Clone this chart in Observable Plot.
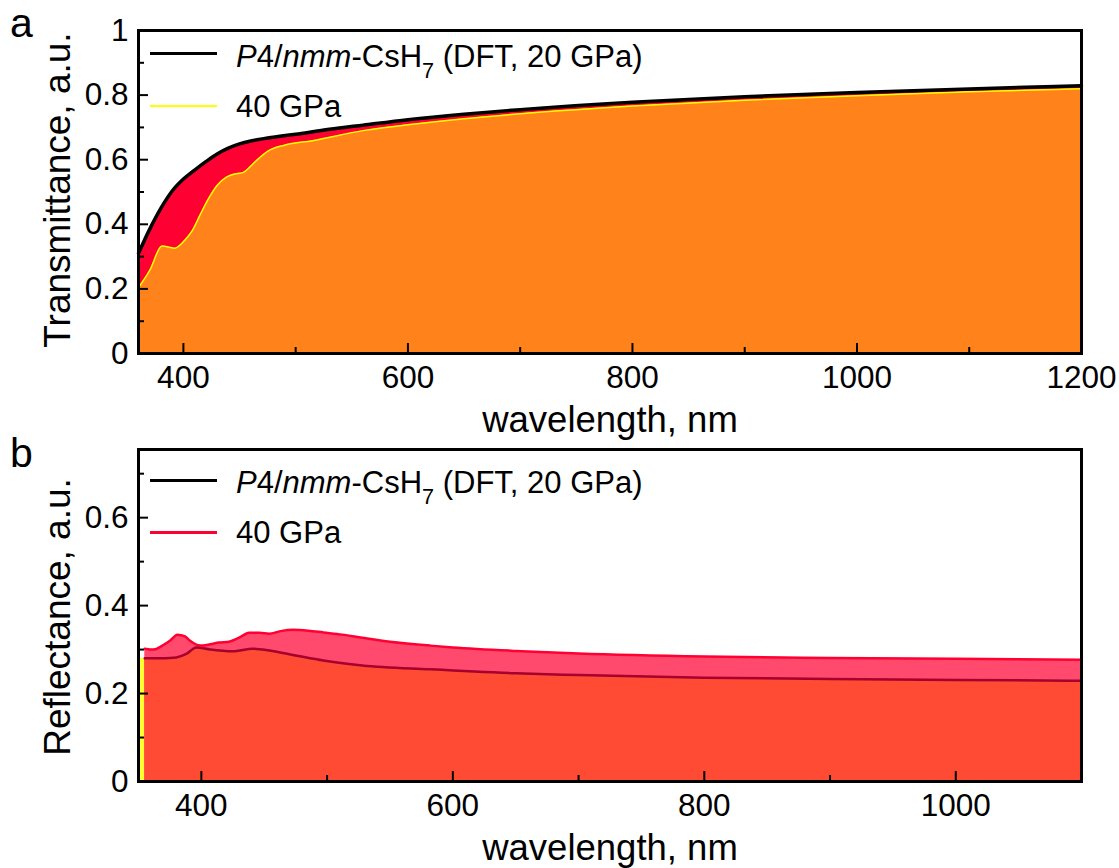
<!DOCTYPE html>
<html><head><meta charset="utf-8">
<script src="https://cdn.jsdelivr.net/npm/d3@7"></script>
<script src="https://cdn.jsdelivr.net/npm/@observablehq/plot@0.6"></script>
<style>
body{margin:0;background:#fff;font-family:"Liberation Sans",Arial,sans-serif;}
#wrap{position:relative;width:1119px;height:868px;overflow:hidden;background:#fff}
.abs{position:absolute;white-space:nowrap;color:#000;line-height:1}
.plot{position:absolute;left:0}
.sw{position:absolute}
</style></head><body><div id="wrap"></div>
<script>
// ---------- Panel a: transmittance ----------
const wlT20 = [360,370,380,390,400,410,420,430,440,450,460,475,500,530,560,600,650,700,800,900,1000,1100,1200];
const valT20 = [0.31,0.385,0.45,0.503,0.54,0.568,0.594,0.618,0.636,0.649,0.658,0.667,0.679,0.694,0.707,0.724,0.741,0.755,0.778,0.795,0.808,0.819,0.829];
const wlT40 = [360,370,381,392,401,408,415,423,430,438,445,453,460,465,476,490,515,560,600,650,700,800,900,1000,1100,1200];
const valT40 = [0.204,0.257,0.333,0.326,0.35,0.381,0.43,0.483,0.52,0.545,0.555,0.56,0.58,0.597,0.628,0.645,0.659,0.69,0.708,0.727,0.742,0.766,0.784,0.798,0.81,0.82];
const xTicksA = [400,600,800,1000,1200];
const xMinorA = [500,700,900,1100];
const yTicksA = [0,0.2,0.4,0.6,0.8,1];
const yMinorA = [0.1,0.3,0.5,0.7,0.9];

// ---------- Panel b: reflectance ----------
const wlR20 = [355,375,380,388,396,407,425,441,454,476,497,528,582,650,700,800,900,1000,1100];
const valR20 = [0.28,0.281,0.282,0.29,0.305,0.30,0.296,0.302,0.298,0.286,0.275,0.264,0.255,0.246,0.242,0.236,0.233,0.231,0.229];
const wlR40 = [355,362,369,375,381,387,391,399,407,414,422,430,438,446,454,463,473,485,497,512,528,550,582,600,650,700,800,900,1000,1100];
const valR40 = [0.302,0.30,0.309,0.32,0.334,0.33,0.32,0.309,0.312,0.316,0.318,0.327,0.338,0.338,0.336,0.342,0.345,0.343,0.339,0.334,0.327,0.318,0.309,0.305,0.297,0.291,0.284,0.281,0.279,0.277];
const wlStripe = [350,356];
const valStripe = [0.28,0.28];
const xTicksB = [400,600,800,1000];
const xMinorB = [500,700,900];
const yTicksB = [0,0.2,0.4,0.6];
const yMinorB = [0.1,0.3,0.5,0.7];

const legendMain = "P4/nmm-CsH7 (DFT, 20 GPa)";
const legend40 = "40 GPa";

const rows = (w, v) => w.map((x, i) => ({x, y: v[i]}));
const fmt = d3.format("~g");
const FONT = "'Liberation Sans', Arial, sans-serif";

function panel({width, height, mt, mr, mb, ml, xDomain, yDomain, xT, xM, yT, yM, marks}) {
  const fh = height - mt - mb, fw = width - ml - mr;
  return Plot.plot({
    width, height, marginTop: mt, marginRight: mr, marginBottom: mb, marginLeft: ml,
    style: {fontSize: "31.5px", fontFamily: FONT, color: "#000", background: "transparent"},
    x: {domain: xDomain},
    y: {domain: yDomain},
    marks: [
      ...marks,
      Plot.tickX(xT, {x: d => d, insetTop: fh - 10, stroke: "#000", strokeWidth: 2}),
      Plot.tickX(xM, {x: d => d, insetTop: fh - 6, stroke: "#000", strokeWidth: 2}),
      Plot.tickY(yT, {y: d => d, insetRight: fw - 10, stroke: "#000", strokeWidth: 2}),
      Plot.tickY(yM, {y: d => d, insetRight: fw - 6, stroke: "#000", strokeWidth: 2}),
      Plot.frame({stroke: "#000", strokeWidth: 3}),
      Plot.axisX({ticks: xT, tickSize: 0, tickPadding: 12, label: null, tickFormat: fmt}),
      Plot.axisY({ticks: yT, tickSize: 0, tickPadding: 10, label: null, tickFormat: fmt})
    ]
  });
}

const T20 = rows(wlT20, valT20), T40 = rows(wlT40, valT40);
const R20 = rows(wlR20, valR20), R40 = rows(wlR40, valR40), ST = rows(wlStripe, valStripe);
const cv = "monotone-x";

const plotA = panel({
  width: 1119, height: 430, mt: 30, mr: 38, mb: 77, ml: 138,
  xDomain: [360, 1200], yDomain: [0, 1],
  xT: xTicksA, xM: xMinorA, yT: yTicksA, yM: yMinorA,
  marks: [
    Plot.areaY(T20, {x: "x", y: "y", fill: "#FF0033", curve: cv}),
    Plot.areaY(T40, {x: "x", y: "y", fill: "#FF831A", curve: cv}),
    Plot.line(T40, {x: "x", y: "y", stroke: "#FFFF00", strokeWidth: 1.5, curve: cv}),
    Plot.line(T20, {x: "x", y: "y", stroke: "#000", strokeWidth: 3.5, curve: cv})
  ]
});
const plotB = panel({
  width: 1119, height: 438, mt: 19, mr: 38, mb: 87, ml: 138,
  xDomain: [350, 1100], yDomain: [0, 0.755],
  xT: xTicksB, xM: xMinorB, yT: yTicksB, yM: yMinorB,
  marks: [
    Plot.areaY(ST, {x: "x", y: "y", fill: "#FFFF33"}),
    Plot.areaY(R40, {x: "x", y: "y", fill: "#FF4A6E", curve: cv}),
    Plot.areaY(R20, {x: "x", y: "y", fill: "#FF4B33", curve: cv}),
    Plot.line(R40, {x: "x", y: "y", stroke: "#FF0033", strokeWidth: 2.5, curve: cv}),
    Plot.line(R20, {x: "x", y: "y", stroke: "#A5002E", strokeWidth: 2.5, curve: cv})
  ]
});

const wrap = document.getElementById("wrap");
plotA.classList.add("plot"); plotA.style.top = "0px";
plotB.classList.add("plot"); plotB.style.top = "430px";
wrap.appendChild(plotA); wrap.appendChild(plotB);

function text(html, left, top, size, extra = "") {
  const d = document.createElement("div");
  d.className = "abs";
  d.style.cssText += `left:${left}px;top:${top}px;font-size:${size}px;${extra}`;
  d.innerHTML = html;
  wrap.appendChild(d);
  return d;
}
function swatch(left, top, w, h, color) {
  const d = document.createElement("div");
  d.className = "sw";
  d.style.cssText = `left:${left}px;top:${top}px;width:${w}px;height:${h}px;background:${color}`;
  wrap.appendChild(d);
}
const mainHTML = legendMain.replace("P4/nmm", "<i>P</i>4/<i>nmm</i>").replace("CsH7", "CsH<sub style='font-size:0.7em;vertical-align:-0.5em;line-height:0'>7</sub>");

// panel labels
text("a", 10, 3, 41);
text("b", 10, 433, 41);
// legend a
swatch(150, 52, 67, 3, "#000");
swatch(150, 105, 67, 1.5, "#FFFF00");
text(mainHTML, 236, 41, 31);
text(legend40, 236, 91, 31);
// legend b
swatch(150, 479, 67, 2.5, "#000");
swatch(150, 531, 67, 2.5, "#FF0033");
text(mainHTML, 236, 467, 31);
text(legend40, 236, 517, 31);
// axis titles
text("wavelength, nm", 610, 402, 36.5, "transform:translateX(-50%)");
text("wavelength, nm", 610, 830, 36.5, "transform:translateX(-50%)");
text("Transmittance, a.u.", 57, 190, 37, "transform:translate(-50%,-50%) rotate(-90deg)");
text("Reflectance, a.u.", 57, 617, 37, "transform:translate(-50%,-50%) rotate(-90deg)");
</script>
</body></html>
